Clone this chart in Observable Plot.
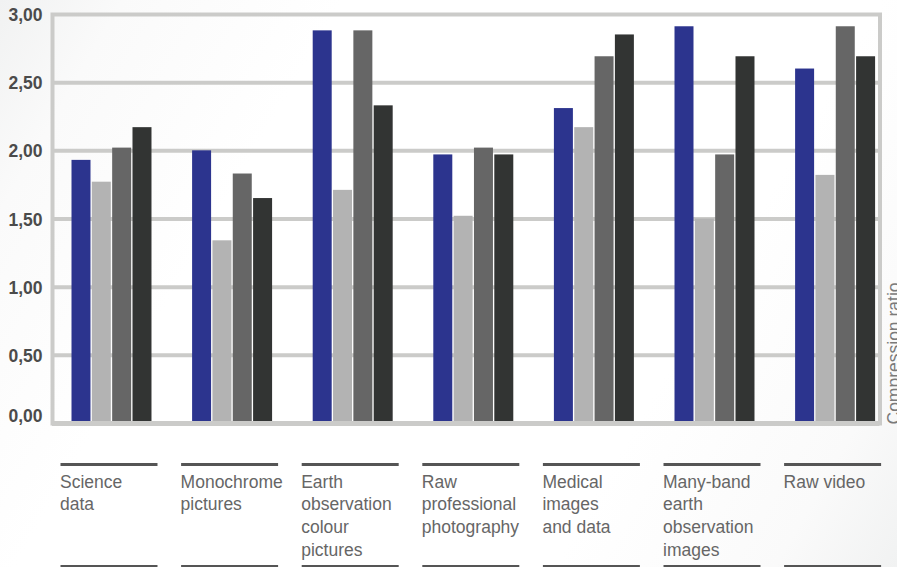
<!DOCTYPE html>
<html>
<head>
<meta charset="utf-8">
<script src="https://cdn.jsdelivr.net/npm/d3@7"></script>
<script src="https://cdn.jsdelivr.net/npm/@observablehq/plot@0.6"></script>
<style>
  html, body { margin: 0; padding: 0; }
  body {
    width: 897px; height: 567px; overflow: hidden;
    background: linear-gradient(120deg, #f1f2f2 0%, #fafafa 10%, #ffffff 28%, #ffffff 72%, #fafafa 90%, #f1f2f2 100%);
    font-family: "Liberation Sans", Arial, Helvetica, sans-serif;
  }
  #chart svg { display: block; }
</style>
</head>
<body>
<div id="chart"></div>
<script>
// ---- data ----
const categories = [
  "Science data",
  "Monochrome pictures",
  "Earth observation colour pictures",
  "Raw professional photography",
  "Medical images and data",
  "Many-band earth observation images",
  "Raw video"
];
const tickLabels = [
  "Science\ndata",
  "Monochrome\npictures",
  "Earth\nobservation\ncolour\npictures",
  "Raw\nprofessional\nphotography",
  "Medical\nimages\nand data",
  "Many-band\nearth\nobservation\nimages",
  "Raw video"
];
const seriesNames = ["Method 1", "Method 2", "Method 3", "Method 4"];
const seriesA = [1.93, 2.00, 2.88, 1.97, 2.31, 2.91, 2.60];
const seriesB = [1.77, 1.34, 1.71, 1.52, 2.17, 1.50, 1.82];
const seriesC = [2.02, 1.83, 2.88, 2.02, 2.69, 1.97, 2.91];
const seriesD = [2.17, 1.65, 2.33, 1.97, 2.85, 2.69, 2.69];
const yTicks = [0, 0.5, 1, 1.5, 2, 2.5, 3];
const axisTitle = "Compression ratio";
const seriesColors = ["#2c348e", "#b3b3b3", "#666666", "#323433"];

// ---- table ----
const allSeries = [seriesA, seriesB, seriesC, seriesD];
const rows = categories.map((c, i) => ({
  category: c,
  label: tickLabels[i],
  values: allSeries.map(s => s[i])
}));

const fmt = v => d3.format(".2f")(v).replace(".", ",");

// layout of the 4 bars within each 80px group band
const bandW = 80, slot = 20.33, barW = 19;
const barMarks = allSeries.map((s, k) =>
  Plot.barY(rows, {
    x: "category",
    y: d => d.values[k],
    fill: seriesColors[k],
    insetLeft: k * slot,
    insetRight: bandW - barW - k * slot,
    title: d => `${d.category} – ${seriesNames[k]}: ${fmt(d.values[k])}`
  })
);

const chart = Plot.plot({
  width: 897,
  height: 567,
  marginTop: 14,
  marginBottom: 144,
  marginLeft: 52,
  marginRight: 17.5,
  style: { background: "transparent", fontFamily: "'Liberation Sans', Arial, Helvetica, sans-serif" },
  x: { domain: categories, range: [71.5, 875.1], paddingInner: 0.3367, paddingOuter: 0, round: false, axis: null },
  y: { domain: [0, 3], axis: null },
  marks: [
    Plot.gridY(yTicks.filter(t => t > 0 && t < 3), { stroke: "#cbcbc9", strokeOpacity: 1, strokeWidth: 4 }),
    ...barMarks,
    Plot.frame({ stroke: "#cbcbc9", strokeWidth: 4 }),
    Plot.ruleY([0], { stroke: "#cbcbc9", strokeWidth: 5 }),
    // y tick labels
    Plot.text(yTicks.filter(t => t > 0), {
      y: d => d, text: fmt, frameAnchor: "left", textAnchor: "end", dx: -10, dy: 1,
      fontSize: 17.5, fontWeight: "bold", fill: "#4b4b4b"
    }),
    Plot.text([0], {
      y: d => d, text: fmt, frameAnchor: "left", textAnchor: "end", dx: -10, dy: -7,
      fontSize: 17.5, fontWeight: "bold", fill: "#4b4b4b"
    }),
    // category label rules and text
    Plot.tickY(rows, { x: "category", y: () => 0, dy: 41, insetLeft: -11, insetRight: -6, stroke: "#555555", strokeWidth: 3 }),
    Plot.tickY(rows, { x: "category", y: () => 0, dy: 143, insetLeft: -11, insetRight: -6, stroke: "#555555", strokeWidth: 3 }),
    Plot.text(rows, {
      x: "category", text: "label", frameAnchor: "bottom",
      textAnchor: "start", lineAnchor: "top", dx: -52, dy: 48,
      lineHeight: 1.3, fontSize: 17.5, fill: "#666666"
    }),
    Plot.text([axisTitle], {
      text: d => d, frameAnchor: "bottom-right", rotate: -90,
      textAnchor: "start", lineAnchor: "bottom", dx: 19.5, dy: 1,
      fontSize: 17.5, fill: "#7a7a7a"
    })
  ]
});

document.getElementById("chart").appendChild(chart);
</script>
</body>
</html>
